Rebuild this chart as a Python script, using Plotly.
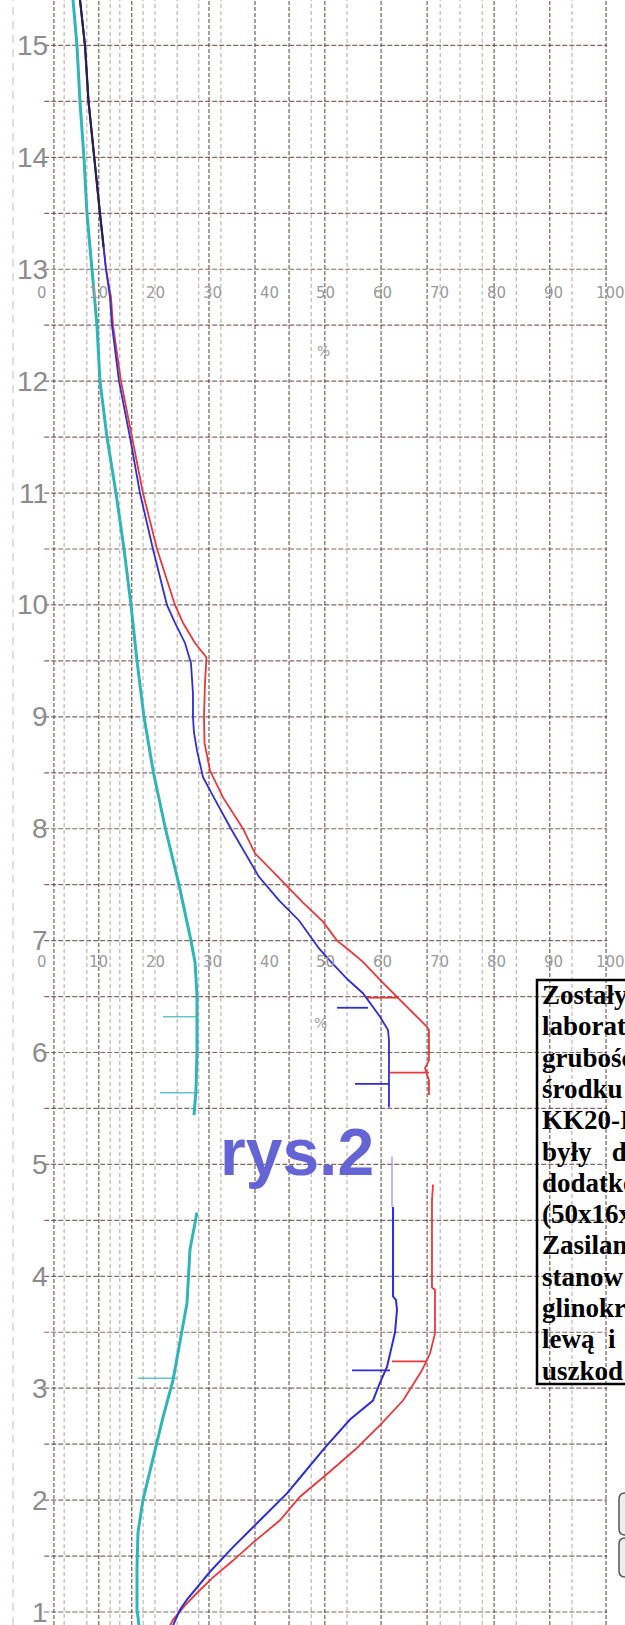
import plotly.graph_objects as go

W, H = 625, 1625
# axis calibration of the scanned sheet (percent horizontally, depth vertically)
X_RANGE = [-7.39, 102.64]
Y_RANGE = [0.884, 15.406]

# ---------------- data ----------------
depth_labels = [15, 14, 13, 12, 11, 10, 9, 8, 7, 6, 5, 4, 3, 2, 1]
pct_labels = [0, 10, 20, 30, 40, 50, 60, 70, 80, 90, 100]

red1_y = [15.41, 15.0, 14.5, 14.0, 13.5, 13.0, 12.75, 12.5, 12.0, 11.5, 11.0, 10.5, 10.0, 9.84, 9.66, 9.53,
          9.30, 9.0, 8.77, 8.52, 8.28, 8.0, 7.78, 7.56, 7.34, 7.17, 7.0, 6.93, 6.81, 6.65, 6.49, 6.36, 6.23,
          6.20, 5.93, 5.86, 5.80, 5.75, 5.62]
red1_x = [6.69, 7.57, 8.19, 9.15, 10.21, 11.27, 12.15, 12.5, 13.91, 15.85, 17.78, 20.25, 23.42, 24.82, 26.94,
          28.96, 28.70, 28.52, 28.61, 29.58, 31.87, 35.39, 37.5, 41.73, 45.95, 49.47, 51.94, 53.70, 56.51,
          59.51, 62.68, 65.32, 67.78, 68.13, 68.13, 67.43, 67.78, 68.13, 68.13]
red2_y = [4.82, 4.68, 3.90, 3.88, 3.49, 3.31, 3.16, 3.03, 2.89, 2.67, 2.45, 2.24, 2.03, 1.82, 1.62, 1.46,
          1.31, 1.17, 1.06, 0.93, 0.88]
red2_x = [68.84, 68.66, 68.66, 69.19, 69.19, 68.31, 66.90, 65.32, 63.56, 59.51, 55.11, 50.35, 45.42, 41.90,
          37.15, 33.63, 30.11, 27.29, 25.18, 23.06, 22.54]

blue1_y = [15.41, 15.0, 14.5, 14.0, 13.5, 13.0, 12.75, 12.5, 12.0, 11.5, 11.0, 10.5, 10.0, 9.84, 9.66, 9.48,
           9.21, 9.0, 8.86, 8.70, 8.46, 8.26, 8.0, 7.57, 7.36, 7.18, 6.93, 6.81, 6.65, 6.53, 6.42, 6.32, 6.20,
           6.11, 5.51]
blue1_x = [6.69, 7.57, 8.19, 9.15, 10.21, 11.27, 11.97, 12.32, 13.56, 15.49, 17.25, 19.54, 22.0, 23.42, 25.18,
           26.23, 26.58, 26.58, 26.76, 27.29, 28.35, 30.46, 33.27, 38.20, 41.73, 45.25, 48.77, 50.88, 53.87,
           56.51, 58.10, 59.51, 60.92, 61.09, 61.09]
blue_faint_y = [5.07, 4.62]
blue_faint_x = [61.62, 61.62]
blue2_y = [4.62, 3.82, 3.79, 3.70, 3.50, 3.34, 3.19, 3.05, 2.89, 2.72, 2.47, 2.20, 2.06, 1.82, 1.58, 1.36,
           1.22, 1.11, 1.02, 0.96, 0.88]
blue2_x = [61.80, 61.80, 62.32, 62.50, 62.15, 61.44, 60.74, 59.51, 58.27, 54.23, 49.82, 45.42, 43.13, 38.38,
           33.63, 29.58, 27.29, 25.53, 24.30, 23.77, 23.06]

dark_top_y = [15.41, 15.0, 14.5, 14.0, 13.5, 13.2]
dark_top_x = [6.69, 7.57, 8.19, 9.15, 10.21, 10.85]

cyan1_y = [15.41, 15.0, 14.5, 14.0, 13.5, 13.0, 12.75, 12.5, 12.0, 11.5, 11.0, 10.5, 10.0, 9.5, 9.0, 8.5,
           8.0, 7.5, 7.0, 6.81, 6.51, 6.0, 5.66, 5.44]
cyan1_x = [5.46, 6.16, 6.69, 7.39, 7.92, 8.80, 9.33, 9.68, 10.21, 11.44, 13.03, 14.44, 15.67, 16.73, 17.96,
           19.63, 21.74, 24.12, 26.23, 26.94, 27.29, 27.29, 27.11, 26.76]
cyan2_y = [4.57, 4.24, 3.76, 3.40, 3.07, 2.74, 2.36, 2.0, 1.71, 1.40, 1.02, 0.88]
cyan2_x = [27.29, 26.06, 25.53, 24.30, 23.06, 21.30, 19.54, 17.78, 16.90, 16.73, 16.73, 17.08]

# horizontal marker ticks: depth, from %, to %
red_ticks_y = [6.49, 5.82, 3.24]
red_ticks_x0 = [57.22, 61.27, 61.62]
red_ticks_x1 = [62.68, 68.13, 67.78]
blue_ticks_y = [6.40, 5.72, 3.16]
blue_ticks_x0 = [51.94, 55.11, 54.58]
blue_ticks_x1 = [57.39, 61.09, 61.27]
cyan_ticks_y = [6.32, 5.64, 3.09]
cyan_ticks_x0 = [21.30, 20.77, 16.90]
cyan_ticks_x1 = [27.29, 27.64, 23.77]

note_lines = ["Zostały", "laborat", "grubośc", "środku", "KK20-I", "były&nbsp;&nbsp;&nbsp;d", "dodatko",
              "(50x16x", "Zasilan", "stanow", "glinokr", "lewą&nbsp;&nbsp;i", "uszkod"]

# ---------------- styling / layout constants ----------------
grid_v_dark = [2.1, 10.0, 15.8, 29.4, 37.5, 43.5, 49.8, 59.7, 67.8, 79.6, 89.4, 99.3]
grid_v_light = [3.9, 7.9, 12.0, 13.7, 17.8, 19.9, 23.8, 27.6, 31.5, 47.4, 53.7, 70.1, 73.6, 77.5, 83.5, 93.3]
grid_h = [1 + 0.5 * i for i in range(29)]


def px_x(p):
    return p / W


def px_y(p):
    return 1 - p / H


fig = go.Figure()


def seglines(xs_pairs, ys_pairs):
    xs, ys = [], []
    for (a, b), (c, d) in zip(xs_pairs, ys_pairs):
        xs += [a, b, None]
        ys += [c, d, None]
    return xs, ys


# grid
gx, gy = seglines([(v, v) for v in grid_v_dark], [(Y_RANGE[0], Y_RANGE[1])] * len(grid_v_dark))
fig.add_trace(go.Scatter(x=gx, y=gy, mode="lines", hoverinfo="skip",
                         line=dict(color="rgba(95,65,60,0.85)", width=1.2, dash="4px,2px")))
gx, gy = seglines([(v, v) for v in grid_v_light], [(Y_RANGE[0], Y_RANGE[1])] * len(grid_v_light))
fig.add_trace(go.Scatter(x=gx, y=gy, mode="lines", hoverinfo="skip",
                         line=dict(color="rgba(120,90,90,0.55)", width=1, dash="4px,3px")))
gx, gy = seglines([(0.4, 99.5)] * len(grid_h), [(v, v) for v in grid_h])
fig.add_trace(go.Scatter(x=gx, y=gy, mode="lines", hoverinfo="skip",
                         line=dict(color="rgba(95,65,60,0.8)", width=1.2, dash="5px,2px")))
# scan edge dashes at far left
fig.add_trace(go.Scatter(x=[-5.1, -5.1], y=Y_RANGE, mode="lines", hoverinfo="skip",
                         line=dict(color="rgba(190,150,160,0.6)", width=1.2, dash="8px,6px")))

RED = "#e8383c"
BLUE = "#2e2ed2"
CYAN = "#30b4b6"


def curve(x, y, color, width, opacity=1.0):
    fig.add_trace(go.Scatter(x=x, y=y, mode="lines", hoverinfo="skip", opacity=opacity,
                             line=dict(color=color, width=width)))


curve(cyan1_x, cyan1_y, CYAN, 3)
curve(cyan2_x, cyan2_y, CYAN, 3)
for y0, a, b in zip(cyan_ticks_y, cyan_ticks_x0, cyan_ticks_x1):
    curve([a, b], [y0, y0], CYAN, 1.5, 0.75)
curve(red1_x, red1_y, RED, 1.8)
curve(red2_x, red2_y, RED, 1.8)
for y0, a, b in zip(red_ticks_y, red_ticks_x0, red_ticks_x1):
    curve([a, b], [y0, y0], RED, 1.8)
curve(blue1_x, blue1_y, BLUE, 1.8)
curve(blue_faint_x, blue_faint_y, "#8f8fe6", 1.2)
curve(blue2_x, blue2_y, BLUE, 2)
for y0, a, b in zip(blue_ticks_y, blue_ticks_x0, blue_ticks_x1):
    curve([a, b], [y0, y0], BLUE, 1.8)
curve(dark_top_x, dark_top_y, "#24224e", 2.2)

annotations = []
# depth labels
for d in depth_labels:
    annotations.append(dict(x=1.41, y=d, xref="x", yref="y", text=str(d), showarrow=False,
                            xanchor="right", yanchor="middle",
                            font=dict(family="Liberation Sans", size=28, color="#8c8c8c")))
# percent label rows
for row_y in [12.79, 6.81]:
    for p in pct_labels:
        annotations.append(dict(x=p, y=row_y, xref="x", yref="y", text=str(p), showarrow=False,
                                xanchor="center", yanchor="middle",
                                font=dict(family="DejaVu Sans", size=15, color="#9a9a9a")))
for ux, uy in [(49.6, 12.27), (49.0, 6.26)]:
    annotations.append(dict(x=ux, y=uy, xref="x", yref="y", text="%", showarrow=False,
                            font=dict(family="DejaVu Sans", size=14, color="#a0a0a0")))

# rys.2 caption
annotations.append(dict(x=px_x(218), y=px_y(1152), xref="paper", yref="paper", text="<b>rys.2</b>",
                        showarrow=False, xanchor="left", yanchor="middle",
                        font=dict(family="Liberation Sans", size=66, color="#6464d4")))

# note box text
for i, t in enumerate(note_lines):
    annotations.append(dict(x=px_x(540), y=px_y(995 + i * 31.3), xref="paper", yref="paper",
                            text="<b>" + t + "</b>", showarrow=False, xanchor="left", yanchor="middle",
                            font=dict(family="Liberation Serif", size=27, color="#000000")))

shapes = [
    dict(type="rect", xref="paper", yref="paper", x0=px_x(537), x1=px_x(640), y0=px_y(1384), y1=px_y(980),
         line=dict(color="#000000", width=2.5), fillcolor="rgba(255,255,255,0)"),
]


def rounded(x0, y0, x1, y1, r):
    X0, X1 = px_x(x0), px_x(x1)
    Y0, Y1 = px_y(y0), px_y(y1)
    rx, ry = r / W, r / H
    return (f"M {X0+rx},{Y0} L {X1-rx},{Y0} Q {X1},{Y0} {X1},{Y0-ry} L {X1},{Y1+ry} Q {X1},{Y1} {X1-rx},{Y1} "
            f"L {X0+rx},{Y1} Q {X0},{Y1} {X0},{Y1+ry} L {X0},{Y0-ry} Q {X0},{Y0} {X0+rx},{Y0} Z")


for (a, b) in [(1493, 1535), (1538, 1577)]:
    shapes.append(dict(type="path", xref="paper", yref="paper", path=rounded(619, a, 640, b, 6),
                       line=dict(color="#555555", width=1.5), fillcolor="#eeeeee"))

fig.update_layout(
    width=W, height=H, margin=dict(l=0, r=0, t=0, b=0),
    paper_bgcolor="white", plot_bgcolor="white", showlegend=False,
    xaxis=dict(range=X_RANGE, visible=False, fixedrange=True),
    yaxis=dict(range=Y_RANGE, visible=False, fixedrange=True),
    annotations=annotations, shapes=shapes,
)

fig.write_html("out.html")
